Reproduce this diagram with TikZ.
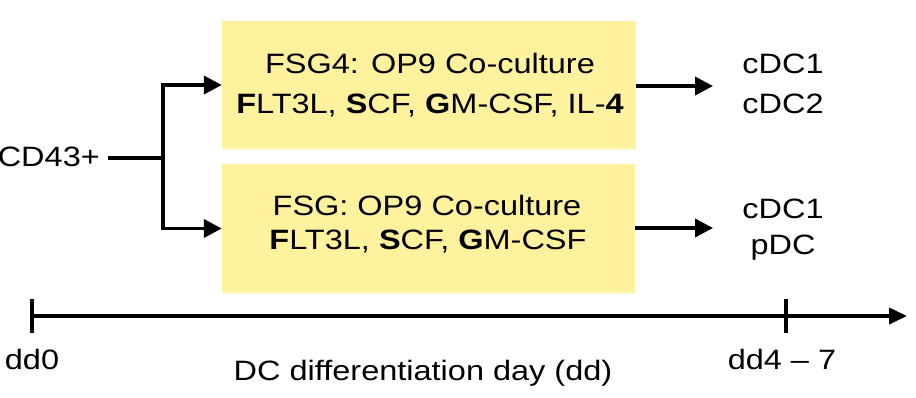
\documentclass[tikz,border=0pt]{standalone}
\usepackage{fontspec}
\setmainfont[FakeStretch=1.16,Ligatures=CommonOff]{Liberation Sans}
\usetikzlibrary{arrows.meta}
\definecolor{boxyellow}{RGB}{255,242,158}
\begin{document}
\begin{tikzpicture}[x=1pt,y=-1pt,
  box/.style={fill=boxyellow, draw=none, minimum height=128pt, inner sep=0pt},
  txt/.style={font=\fontsize{28}{34}\selectfont, anchor=base, inner sep=0pt},
  conn/.style={line width=3.8pt},
  arr/.style={line width=3.8pt, -{Triangle[length=18pt,width=18pt]}},
  tarr/.style={line width=3.8pt, -{Triangle[length=18pt,width=16pt]}},
]
\useasboundingbox (0,0) rectangle (916,397);

% boxes
\node[box, minimum width=414pt] (b1) at (429,85) {};
\node[box, minimum width=413pt, minimum height=129pt] (b2) at (428.5,228.5) {};

% box texts
\node[txt] (t1a) at (430,73) {FSG4: OP9 Co-culture};
\node[txt] (t1b) at (430,113) {\textbf{F}LT3L, \textbf{S}CF, \textbf{G}M-CSF, IL-\textbf{4}};
\node[txt] (t2a) at (427,215) {FSG: OP9 Co-culture};
\node[txt] (t2b) at (428,249) {\textbf{F}LT3L, \textbf{S}CF, \textbf{G}M-CSF};

% source
\node[txt, anchor=base east] (cd) at (100,166) {CD43+};
\coordinate (j) at (163,158);
\coordinate (cdout) at (108,158);
\draw[conn] (cdout) -- (j);
\draw[arr] (j) |- (b1.west);
\draw[arr] (j) |- (b2.west);

% results
\node[txt] (r1a) at (783,73) {cDC1};
\node[txt] (r1b) at (783,113) {cDC2};
\node[txt] (r2a) at (783,218) {cDC1};
\node[txt] (r2b) at (783,254) {pDC};
\coordinate (e1) at (713,86);
\coordinate (e2) at (713,228);
\draw[arr] (b1.east |- e1) -- (e1);
\draw[arr] (b2.east |- e2) -- (e2);

% timeline
\coordinate (t0) at (32,316);
\coordinate (t1) at (786,316);
\coordinate (tend) at (907,316);
\draw[tarr] (t0) -- (tend);
\draw[conn] ([yshift=17pt]t0) -- ([yshift=-17pt]t0);
\draw[conn] ([yshift=17pt]t1) -- ([yshift=-17pt]t1);
\node[txt] (l0) at (32,369) {dd0};
\node[txt] (l1) at (782,369) {dd4 – 7};
\node[txt] (lx) at (423,380) {DC differentiation day (dd)};
\end{tikzpicture}
\end{document}
